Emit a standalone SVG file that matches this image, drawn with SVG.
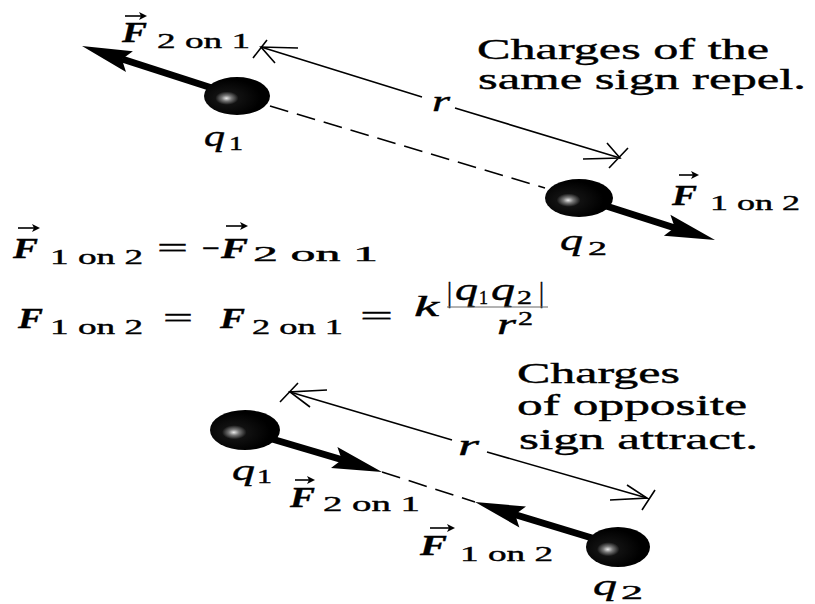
<svg xmlns="http://www.w3.org/2000/svg" width="815" height="604" viewBox="0 0 815 604">
<defs>
<radialGradient id="ball" cx="0.36" cy="0.55" r="0.5" fx="0.34" fy="0.56">
<stop offset="0" stop-color="#e8e8e8"/>
<stop offset="0.15" stop-color="#777"/>
<stop offset="0.35" stop-color="#111"/>
<stop offset="1" stop-color="#000"/>
</radialGradient>
</defs>
<style>
.ball{fill:url(#ball)}
.shaft{stroke:#000;stroke-width:7;fill:none}
.head{fill:#000}
.thin{stroke:#000;stroke-width:1.6;fill:none}
.dash{stroke:#000;stroke-width:1.6;fill:none;stroke-dasharray:19 9}
.vec{stroke:#000;stroke-width:1.6;fill:none}
.vh{fill:#000}
text{fill:#000;stroke:#000;stroke-width:0.4}
.F{font-size:30px;font-style:italic;font-weight:bold}
.sub{font-size:22px}
.var{font-size:29px;font-style:italic}
.num{font-size:32px;font-style:italic}
.idx{font-size:19px}
.cap{font-size:30px}
.op{font-size:30px}
</style>
<rect width="815" height="604" fill="#fff"/>

<g id="connectors">
<path class="thin" d="M261 47 L422 97 M455 108 L620 158"/>
<path class="thin" d="M298 48 L261 47 L275 63 M253 58 L267 40"/>
<path class="thin" d="M583 159 L620 158 L607 143 M609 168 L628 148"/>
<path class="dash" d="M270 106 L545 188"/>
<path class="thin" d="M290 392 L452 440 M487 452 L647 498"/>
<path class="thin" d="M327 390 L290 392 L310 407 M280 402 L298 383"/>
<path class="thin" d="M610 500 L647 498 L627 485 M642 510 L655 490"/>
<path class="dash" d="M382 472 L475 502"/>
</g>

<g font-family="Liberation Serif, Times New Roman, DejaVu Serif, serif">
<g id="top-q1">
<path class="shaft" d="M215 89 L122 59"/>
<polygon class="head" points="82,46 132.9,51.3 121.9,59.2 126,72.1"/>
<ellipse class="ball" cx="237" cy="96" rx="33" ry="19"/>
<path class="vec" d="M125 16 H145"/><path class="vh" d="M147 16 L139 12 L141 16 L139 20 Z"/>
<text class="F" x="122" y="42" textLength="25" lengthAdjust="spacingAndGlyphs">F</text>
<text class="sub" x="157" y="48" textLength="93" lengthAdjust="spacingAndGlyphs">2 on 1</text>
<text class="var" x="204" y="146" textLength="21" lengthAdjust="spacingAndGlyphs">q</text>
<text class="idx" x="229" y="150" textLength="14" lengthAdjust="spacingAndGlyphs">1</text>
</g>
<text class="var" x="432" y="111" textLength="18" lengthAdjust="spacingAndGlyphs">r</text>

<g id="top-q2">
<path class="shaft" d="M603 205 L675 228"/>
<polygon class="head" points="715,240 663.9,235.8 674.8,227.6 670.4,214.8"/>
<ellipse class="ball" cx="579" cy="198" rx="34" ry="19"/>
<path class="vec" d="M679 175 H697"/><path class="vh" d="M699 175 L691 171 L693 175 L691 179 Z"/>
<text class="F" x="672" y="205" textLength="25" lengthAdjust="spacingAndGlyphs">F</text>
<text class="sub" x="710" y="210" textLength="90" lengthAdjust="spacingAndGlyphs">1 on 2</text>
<text class="var" x="560" y="250" textLength="23" lengthAdjust="spacingAndGlyphs">q</text>
<text class="idx" x="588" y="255" textLength="19" lengthAdjust="spacingAndGlyphs">2</text>
</g>

<g id="caption-repel">
<text class="cap" x="477" y="59" textLength="292" lengthAdjust="spacingAndGlyphs">Charges of the</text>
<text class="cap" x="478" y="89" textLength="328" lengthAdjust="spacingAndGlyphs">same sign repel.</text>
</g>

<g id="equation-1">
<path class="vec" d="M18 228 H38"/><path class="vh" d="M40 228 L32 224 L34 228 L32 232 Z"/>
<text class="F" x="13" y="258" textLength="25" lengthAdjust="spacingAndGlyphs">F</text>
<text class="sub" x="50" y="264" textLength="93" lengthAdjust="spacingAndGlyphs">1 on 2</text>
<text class="op" x="157" y="258" textLength="31" lengthAdjust="spacingAndGlyphs">=</text>
<text class="op" x="202" y="258" textLength="18" lengthAdjust="spacingAndGlyphs">−</text>
<path class="vec" d="M226 226 H246"/><path class="vh" d="M248 226 L240 222 L242 226 L240 230 Z"/>
<text class="F" x="221" y="258" textLength="27" lengthAdjust="spacingAndGlyphs">F</text>
<text class="sub" x="253" y="261" textLength="125" lengthAdjust="spacingAndGlyphs">2 on 1</text>
</g>

<g id="equation-2">
<text class="F" x="18" y="328" textLength="25" lengthAdjust="spacingAndGlyphs">F</text>
<text class="sub" x="50" y="334" textLength="93" lengthAdjust="spacingAndGlyphs">1 on 2</text>
<text class="op" x="163" y="328" textLength="30" lengthAdjust="spacingAndGlyphs">=</text>
<text class="F" x="220" y="328" textLength="25" lengthAdjust="spacingAndGlyphs">F</text>
<text class="sub" x="252" y="334" textLength="91" lengthAdjust="spacingAndGlyphs">2 on 1</text>
<text class="op" x="360" y="326" textLength="33" lengthAdjust="spacingAndGlyphs">=</text>
<text class="var" x="414" y="316" textLength="25" lengthAdjust="spacingAndGlyphs">k</text>
<text class="op" x="447" y="302" textLength="5" lengthAdjust="spacingAndGlyphs">|</text>
<text class="num" x="455" y="300" textLength="23" lengthAdjust="spacingAndGlyphs">q</text>
<text class="idx" x="479" y="304" textLength="9" lengthAdjust="spacingAndGlyphs">1</text>
<text class="num" x="491" y="300" textLength="24" lengthAdjust="spacingAndGlyphs">q</text>
<text class="idx" x="517" y="304" textLength="15" lengthAdjust="spacingAndGlyphs">2</text>
<text class="op" x="539" y="302" textLength="5" lengthAdjust="spacingAndGlyphs">|</text>
<path d="M447 307 H548" stroke="#666" stroke-width="1"/>
<text class="var" x="497" y="334" textLength="19" lengthAdjust="spacingAndGlyphs">r</text>
<text class="idx" x="518" y="325" textLength="15" lengthAdjust="spacingAndGlyphs">2</text>
</g>

<g id="bottom-q1">
<path class="shaft" d="M272 439 L343 460"/>
<polygon class="head" points="382,472 337.4,446.9 341.8,459.7 331,467.9"/>
<ellipse class="ball" cx="245" cy="430" rx="35" ry="20"/>
<text class="var" x="232" y="480" textLength="23" lengthAdjust="spacingAndGlyphs">q</text>
<text class="idx" x="257" y="483" textLength="15" lengthAdjust="spacingAndGlyphs">1</text>
<path class="vec" d="M295 480 H313"/><path class="vh" d="M315 480 L307 476 L309 480 L307 484 Z"/>
<text class="F" x="290" y="507" textLength="25" lengthAdjust="spacingAndGlyphs">F</text>
<text class="sub" x="323" y="511" textLength="97" lengthAdjust="spacingAndGlyphs">2 on 1</text>
</g>
<text class="var" x="458" y="455" textLength="21" lengthAdjust="spacingAndGlyphs">r</text>

<g id="bottom-q2">
<path class="shaft" d="M513 514 L592 538"/>
<polygon class="head" points="475,502 526,506.5 515.1,514.6 519.4,527.5"/>
<ellipse class="ball" cx="618" cy="547" rx="32" ry="20"/>
<path class="vec" d="M430 528 H452"/><path class="vh" d="M455 528 L447 524 L449 528 L447 532 Z"/>
<text class="F" x="420" y="555" textLength="27" lengthAdjust="spacingAndGlyphs">F</text>
<text class="sub" x="460" y="561" textLength="93" lengthAdjust="spacingAndGlyphs">1 on 2</text>
<text class="var" x="593" y="595" textLength="24" lengthAdjust="spacingAndGlyphs">q</text>
<text class="idx" x="621" y="599" textLength="22" lengthAdjust="spacingAndGlyphs">2</text>
</g>

<g id="caption-attract">
<text class="cap" x="517" y="383" textLength="163" lengthAdjust="spacingAndGlyphs">Charges</text>
<text class="cap" x="517" y="415" textLength="230" lengthAdjust="spacingAndGlyphs">of opposite</text>
<text class="cap" x="519" y="449" textLength="239" lengthAdjust="spacingAndGlyphs">sign attract.</text>
</g>
</g>
</svg>
